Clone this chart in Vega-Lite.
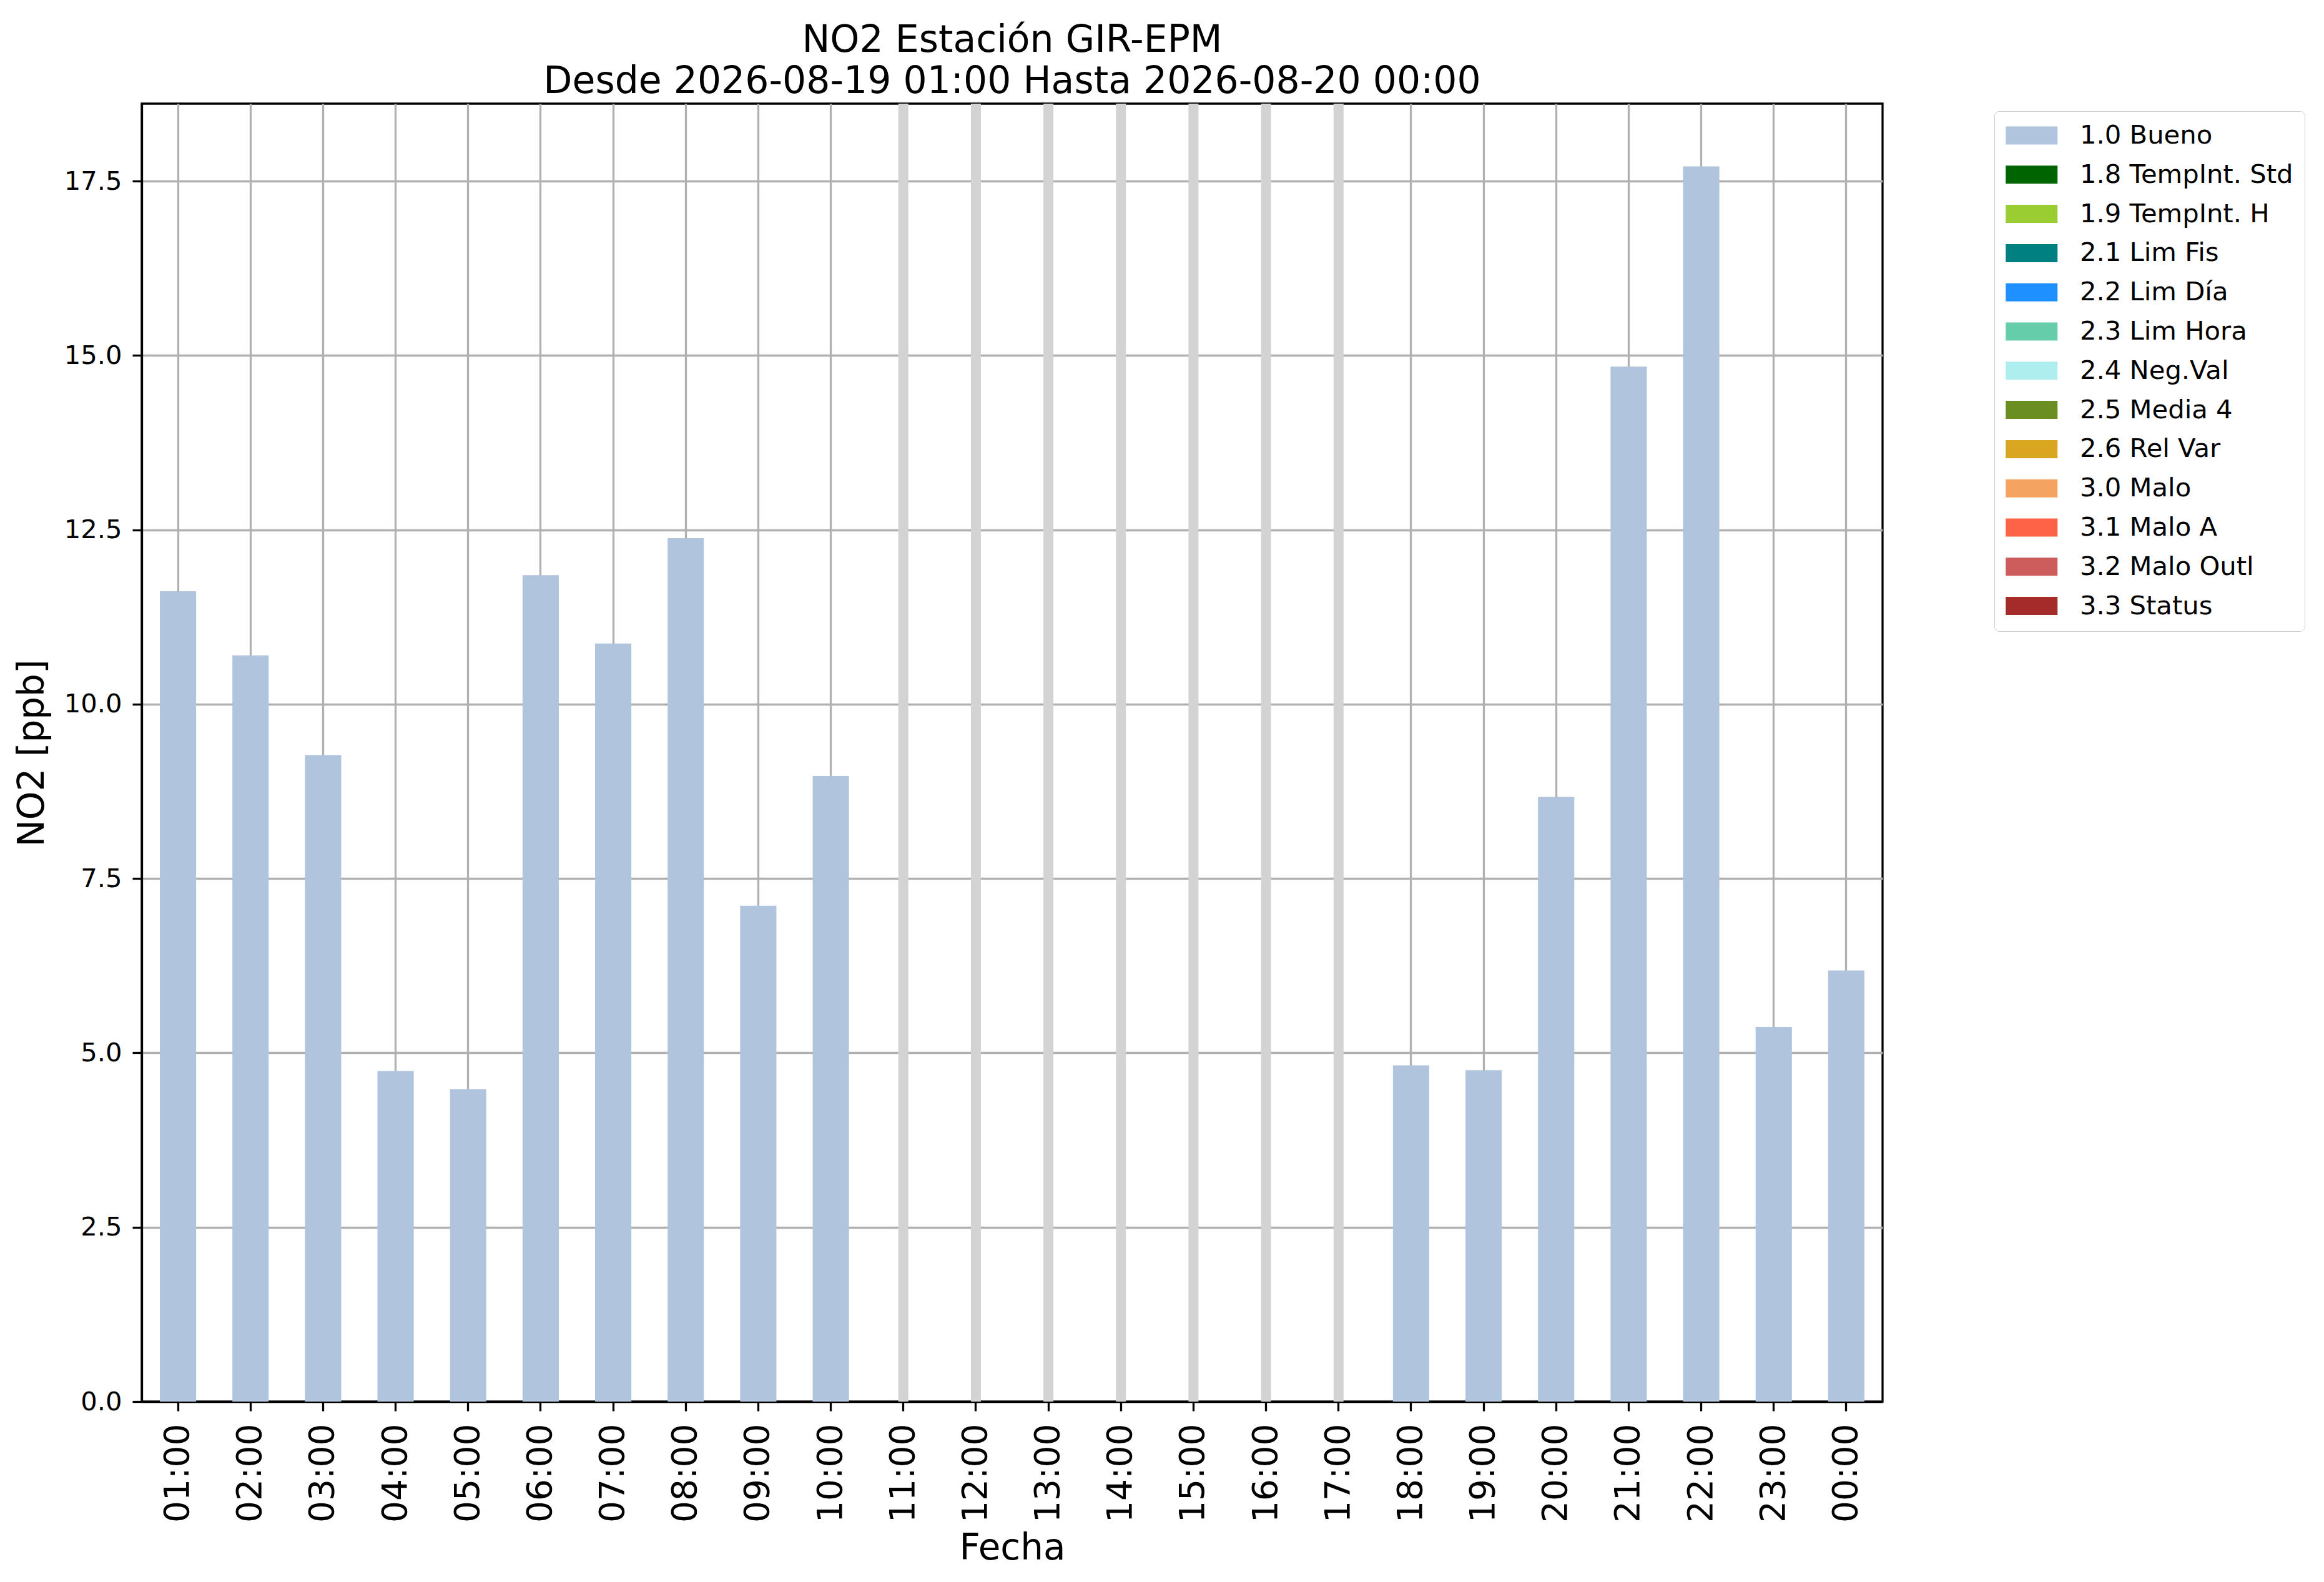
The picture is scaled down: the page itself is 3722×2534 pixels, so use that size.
{
  "$schema": "https://vega.github.io/schema/vega-lite/v6.json",
  "autosize": "none",
  "padding": {"left": 227, "top": 166, "right": 707, "bottom": 289},
  "width": 2788,
  "height": 2079,
  "background": "white",
  "config": {
    "font": "DejaVu Sans",
    "view": {"stroke": "black", "strokeWidth": 3.3},
    "axis": {
      "domainColor": "black", "domainWidth": 3.3,
      "tickColor": "black", "tickWidth": 3.3, "tickSize": 15,
      "gridColor": "#b0b0b0", "gridWidth": 3.3, "gridOpacity": 1,
      "labelColor": "black", "titleColor": "black",
      "titleFontWeight": "normal", "zindex": 1
    }
  },
  "title": {
    "text": ["NO2 Estación GIR-EPM", "Desde 2026-08-19 01:00 Hasta 2026-08-20 00:00"],
    "fontSize": 60, "fontWeight": "normal", "lineHeight": 66,
    "anchor": "middle", "frame": "group", "offset": -4, "color": "black"
  },
  "data": {
    "values": [
      {"hora": "01:00", "no2": 11.62, "flag": "1.0 Bueno"},
      {"hora": "02:00", "no2": 10.70, "flag": "1.0 Bueno"},
      {"hora": "03:00", "no2": 9.27, "flag": "1.0 Bueno"},
      {"hora": "04:00", "no2": 4.74, "flag": "1.0 Bueno"},
      {"hora": "05:00", "no2": 4.48, "flag": "1.0 Bueno"},
      {"hora": "06:00", "no2": 11.85, "flag": "1.0 Bueno"},
      {"hora": "07:00", "no2": 10.87, "flag": "1.0 Bueno"},
      {"hora": "08:00", "no2": 12.38, "flag": "1.0 Bueno"},
      {"hora": "09:00", "no2": 7.11, "flag": "1.0 Bueno"},
      {"hora": "10:00", "no2": 8.97, "flag": "1.0 Bueno"},
      {"hora": "11:00", "no2": null, "flag": null},
      {"hora": "12:00", "no2": null, "flag": null},
      {"hora": "13:00", "no2": null, "flag": null},
      {"hora": "14:00", "no2": null, "flag": null},
      {"hora": "15:00", "no2": null, "flag": null},
      {"hora": "16:00", "no2": null, "flag": null},
      {"hora": "17:00", "no2": null, "flag": null},
      {"hora": "18:00", "no2": 4.82, "flag": "1.0 Bueno"},
      {"hora": "19:00", "no2": 4.75, "flag": "1.0 Bueno"},
      {"hora": "20:00", "no2": 8.67, "flag": "1.0 Bueno"},
      {"hora": "21:00", "no2": 14.84, "flag": "1.0 Bueno"},
      {"hora": "22:00", "no2": 17.71, "flag": "1.0 Bueno"},
      {"hora": "23:00", "no2": 5.37, "flag": "1.0 Bueno"},
      {"hora": "00:00", "no2": 6.18, "flag": "1.0 Bueno"}
    ]
  },
  "encoding": {
    "x": {
      "field": "hora", "type": "ordinal", "sort": null, "title": "Fecha",
      "scale": {
        "domain": ["01:00","02:00","03:00","04:00","05:00","06:00","07:00","08:00","09:00","10:00","11:00","12:00","13:00","14:00","15:00","16:00","17:00","18:00","19:00","20:00","21:00","22:00","23:00","00:00"],
        "paddingInner": 0.5, "paddingOuter": 0.25
      },
      "axis": {
        "grid": true,
        "labelAngle": 270, "labelFontSize": 55, "labelPadding": 20,
        "titleFontSize": 58, "titleX": 1394, "titleY": 252,
        "titleBaseline": "alphabetic", "titleAlign": "center"
      }
    }
  },
  "layer": [
    {
      "transform": [{"filter": "datum.no2 == null"}],
      "mark": {"type": "rule", "color": "#d3d3d3", "strokeWidth": 16},
      "encoding": {}
    },
    {
      "transform": [{"filter": "datum.no2 != null"}],
      "mark": {"type": "bar", "opacity": 1},
      "encoding": {
        "y": {
          "field": "no2", "type": "quantitative", "title": "NO2 [ppb]",
          "scale": {"domain": [0, 18.61], "nice": false, "zero": true},
          "axis": {
            "values": [0, 2.5, 5, 7.5, 10, 12.5, 15, 17.5], "format": ".1f",
            "labelFontSize": 41.7, "labelPadding": 17,
            "titleFontSize": 58, "titleX": -175, "titleY": 1040,
            "titleAngle": 270, "titleAlign": "center", "titleBaseline": "middle"
          }
        },
        "color": {
          "field": "flag", "type": "nominal",
          "scale": {
            "domain": ["1.0 Bueno","1.8 TempInt. Std","1.9 TempInt. H","2.1 Lim Fis","2.2 Lim Día","2.3 Lim Hora","2.4 Neg.Val","2.5 Media 4","2.6 Rel Var","3.0 Malo","3.1 Malo A","3.2 Malo Outl","3.3 Status"],
            "range": ["#b0c4de","#006400","#9acd32","#008080","#1e90ff","#66cdaa","#afeeee","#6b8e23","#daa520","#f4a460","#ff6347","#cd5c5c","#a52a2a"]
          },
          "legend": {
            "title": null, "orient": "none", "legendX": 2967, "legendY": 12,
            "symbolType": "M-1,-0.7L3,-0.7L3,0.7L-1,0.7Z", "symbolSize": 1722,
            "symbolStrokeWidth": 0, "symbolOpacity": 1,
            "labelFontSize": 41.7, "labelOffset": 77, "labelLimit": 1000,
            "labelColor": "black",
            "rowPadding": 19.8, "padding": 18,
            "strokeColor": "#cccccc", "fillColor": "white", "cornerRadius": 8,
            "symbolLimit": 0
          }
        }
      }
    }
  ]
}
